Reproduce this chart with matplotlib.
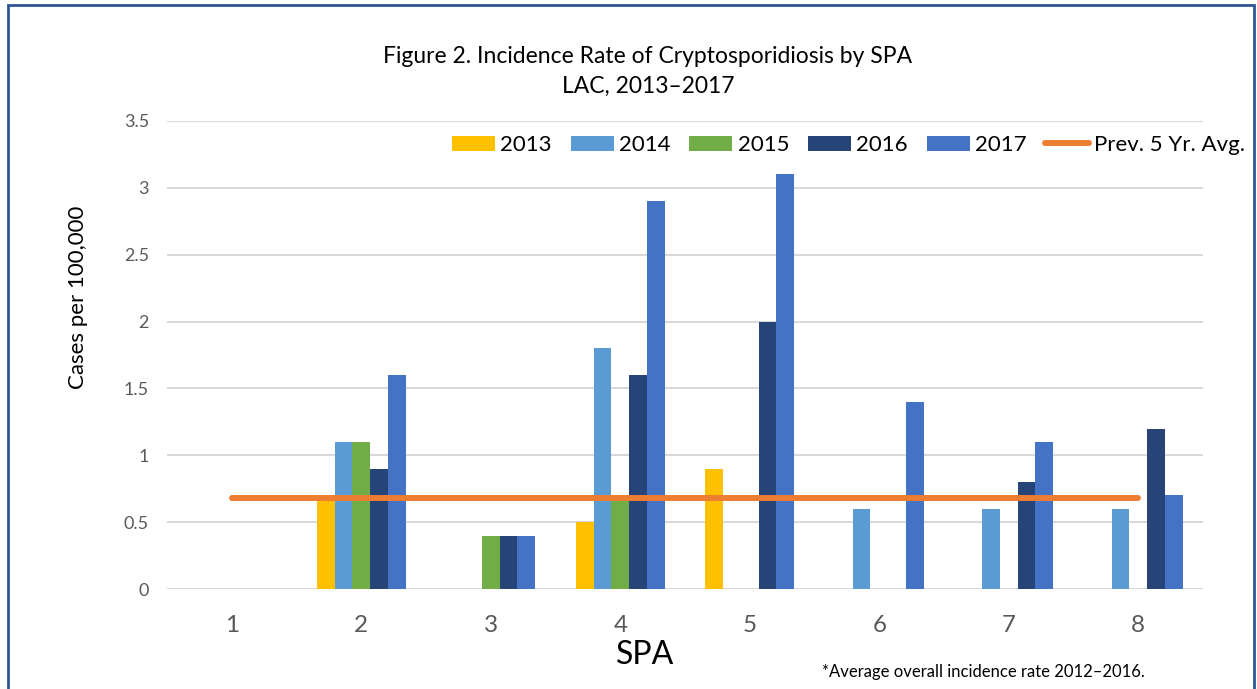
import numpy as np
import matplotlib.pyplot as plt
from matplotlib.patches import Rectangle

plt.rcParams['font.family'] = ['Lato', 'DejaVu Sans']

# data
spa = [1, 2, 3, 4, 5, 6, 7, 8]
years = ["2013", "2014", "2015", "2016", "2017"]
r2013 = [0, 0.7, 0, 0.5, 0.9, 0, 0, 0]
r2014 = [0, 1.1, 0, 1.8, 0, 0.6, 0.6, 0.6]
r2015 = [0, 1.1, 0.4, 0.7, 0, 0, 0, 0]
r2016 = [0, 0.9, 0.4, 1.6, 2.0, 0, 0.8, 1.2]
r2017 = [0, 1.6, 0.4, 2.9, 3.1, 1.4, 1.1, 0.7]
prev_avg = 0.68

series = [r2013, r2014, r2015, r2016, r2017]
colors = ["#FFC000", "#5B9BD5", "#70AD47", "#264478", "#4472C4"]

fig = plt.figure(figsize=(12.57, 6.89), dpi=100)
ax = fig.add_axes([0.1329, 0.1451, 0.8242, 0.6793])

x = np.arange(len(spa))
w = 0.137
for i, (vals, c, yr) in enumerate(zip(series, colors, years)):
    ax.bar(x + (i - 2) * w, vals, w, color=c, label=yr, zorder=3)

ax.plot([x[0], x[-1]], [prev_avg, prev_avg], color="#ED7D31", lw=4.3,
        solid_capstyle="round", label="Prev. 5 Yr. Avg.", zorder=4)

ax.set_xlim(-0.5, len(spa) - 0.5)
ax.set_ylim(0, 3.5)
ax.set_yticks([0, 0.5, 1, 1.5, 2, 2.5, 3, 3.5])
ax.set_yticklabels(["0", "0.5", "1", "1.5", "2", "2.5", "3", "3.5"])
ax.set_xticks(x)
ax.set_xticklabels([str(s) for s in spa])
ax.tick_params(axis="y", length=0, labelsize=13, labelcolor="#595959", pad=13)
ax.tick_params(axis="x", length=0, labelsize=17.5, labelcolor="#595959", pad=19)
ax.grid(axis="y", color="#D9D9D9", lw=1.5, zorder=0)
for s in ax.spines.values():
    s.set_visible(False)

fig.text(0.062, 0.569, "Cases per 100,000", fontsize=16, rotation=90,
         ha="center", va="center")
fig.text(0.513, 0.028, "SPA", fontsize=23, ha="center", va="bottom")

fig.text(0.5155, 0.918, "Figure 2. Incidence Rate of Cryptosporidiosis by SPA",
         fontsize=16.5, ha="center", va="center")
fig.text(0.5155, 0.875, "LAC, 2013\u20132017", fontsize=16.5, ha="center", va="center")
fig.text(0.654, 0.025, "*Average overall incidence rate 2012\u20132016.",
         fontsize=12, ha="left", va="center")

handles, labels = ax.get_legend_handles_labels()
order = [1, 2, 3, 4, 5, 0]
ax.legend([handles[k] for k in order], [labels[k] for k in order],
          loc="center right", bbox_to_anchor=(0.999, 0.7896), bbox_transform=fig.transFigure,
          ncol=6, frameon=False, fontsize=16, handlelength=1.94, handleheight=0.65,
          handletextpad=0.23, columnspacing=0.85, borderpad=0)

# frame around the figure
fig.add_artist(Rectangle((0.006, -0.05), 0.992, 1.043, transform=fig.transFigure,
                         fill=False, edgecolor="#2F5597", lw=2))

fig.savefig("out.png", dpi=100)
